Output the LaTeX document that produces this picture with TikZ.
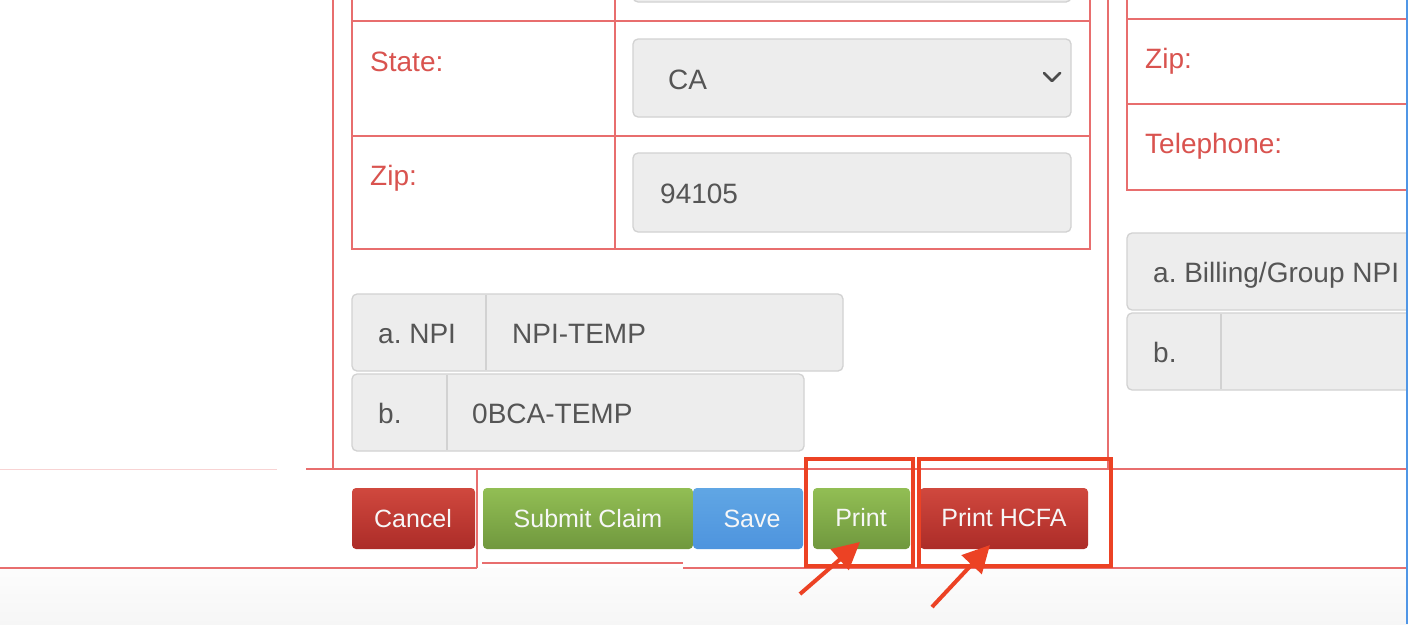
\documentclass[tikz,border=0pt]{standalone}
\usepackage{fontspec}
\setmainfont{Liberation Sans}
\usetikzlibrary{arrows.meta}
\frenchspacing
\definecolor{gridred}{RGB}{232,110,110}
\definecolor{labred}{RGB}{217,83,79}
\definecolor{fieldfill}{RGB}{237,237,237}
\definecolor{fieldline}{RGB}{210,210,210}
\definecolor{fieldtext}{RGB}{85,85,85}
\definecolor{annot}{RGB}{236,66,36}
\definecolor{redtop}{RGB}{208,72,62}
\definecolor{redbot}{RGB}{172,44,40}
\definecolor{greentop}{RGB}{146,190,84}
\definecolor{greenbot}{RGB}{112,152,62}
\definecolor{bluetop}{RGB}{96,166,228}
\definecolor{bluebot}{RGB}{78,148,222}
\definecolor{edgeblue}{RGB}{80,150,230}
\tikzset{
  grid/.style={draw=gridred, line width=1.8pt},
  field/.style={draw=fieldline, fill=fieldfill, line width=1.3pt, rounded corners=5pt},
  lab/.style={anchor=base west, inner sep=0pt, text=labred, font=\fontsize{28}{30}\selectfont},
  val/.style={anchor=base west, inner sep=0pt, text=fieldtext, font=\fontsize{28}{30}\selectfont},
  btn/.style={rounded corners=4pt},
  btntext/.style={anchor=base, inner sep=0pt, text=white!94!gray, font=\fontsize{25}{27}\selectfont},
  hilite/.style={draw=annot, line width=4.5pt},
  pointer/.style={draw=annot, line width=4pt, -{Triangle[length=27pt,width=27pt]}},
}
\begin{document}
\begin{tikzpicture}[x=1pt,y=-1pt]
\useasboundingbox (0,0) rectangle (1408,624);
\clip (0,0) rectangle (1408,624);
% background
\fill[white] (0,0) rectangle (1408,624);
\shade[top color=white!98!gray, bottom color=white!93!gray] (0,568) rectangle (1408,624);

% outer section lines
\draw[grid] (333,-5) -- (333,469);
\draw[grid] (1108,-5) -- (1108,469);
\draw[grid] (306,469) -- (1410,469);
\draw[gridred!30, line width=1pt] (0,469) -- (277,469);
\draw[grid] (477,469) -- (477,568);
\draw[grid] (-2,568) -- (477,568);
\draw[grid] (482,563) -- (683,563);
\draw[grid] (683,568) -- (1410,568);

% main table
\draw[grid] (352,-5) -- (352,249) -- (1090,249) -- (1090,-5);
\draw[grid] (615,-5) -- (615,249);
\draw[grid] (352,21) -- (1090,21);
\draw[grid] (352,136) -- (1090,136);

% fields in main table
\draw[field] (633,-20) rectangle (1071,2);
\draw[field] (633,39) rectangle (1071,117);
\draw[field] (633,153) rectangle (1071,232);
\draw[fieldtext!90!black, line width=2.8pt, line cap=round, line join=round] (1044,73) -- (1052,81) -- (1060,73);

\node[lab] (state) at (370,71) {State:};
\node[lab] (zip) at (370,185) {Zip:};
\node[val] (ca) at (668,89) {CA};
\node[val] (zipval) at (660,203) {94105};

% NPI fields
\draw[field] (352,294) rectangle (843,371);
\draw[fieldline, line width=1.3pt] (486,295) -- (486,370);
\draw[field] (352,374) rectangle (804,451);
\draw[fieldline, line width=1.3pt] (447,375) -- (447,450);
\node[val] (anpi) at (378,343) {a. NPI};
\node[val] (npitemp) at (512,343) {NPI-TEMP};
\node[val] (bl) at (378,423) {b.};
\node[val] (bca) at (472,423) {0BCA-TEMP};

% right table
\draw[grid] (1420,19) -- (1127,19) -- (1127,-5);
\draw[grid] (1127,19) -- (1127,190) -- (1420,190);
\draw[grid] (1127,104) -- (1420,104);
\node[lab] (rzip) at (1145,68) {Zip:};
\node[lab] (tel) at (1145,153) {Telephone:};

% right fields
\draw[field] (1127,233) rectangle (1430,310);
\draw[field] (1127,313) rectangle (1430,390);
\draw[fieldline, line width=1.3pt] (1221,314) -- (1221,389);
\node[val] (bill) at (1153,282) {a. Billing/Group NPI};
\node[val] (rb) at (1153,362) {b.};

% right blue edge
\draw[edgeblue, line width=2pt] (1406.5,0) -- (1406.5,624);

% buttons
\shade[btn, top color=redtop, bottom color=redbot] (352,488) rectangle (475,549);
\shade[btn, top color=greentop, bottom color=greenbot] (483,488) rectangle (693,549);
\shade[btn, top color=bluetop, bottom color=bluebot] (693,488) rectangle (803,549);
\shade[btn, top color=greentop, bottom color=greenbot] (813,488) rectangle (910,549);
\shade[btn, top color=redtop, bottom color=redbot] (920,488) rectangle (1088,549);
\node[btntext] (cancel) at (413,527) {Cancel};
\node[btntext] (submit) at (588,527) {Submit Claim};
\node[btntext] (save) at (752,527) {Save};
\node[btntext] (print) at (861,526) {Print};
\node[btntext] (hcfa) at (1004,526) {Print HCFA};

% highlight boxes
\node[hilite, minimum width=107pt, minimum height=107pt, inner sep=0pt] (box1) at (859.5,512.5) {};
\node[hilite, minimum width=192pt, minimum height=107pt, inner sep=0pt] (box2) at (1015,512.5) {};

% arrows
\coordinate (a1s) at (800,594);
\coordinate (a1e) at (860,542);
\coordinate (a2s) at (932,607);
\coordinate (a2e) at (990,545);
\draw[pointer] (a1s) -- (a1e);
\draw[pointer] (a2s) -- (a2e);
\end{tikzpicture}
\end{document}
